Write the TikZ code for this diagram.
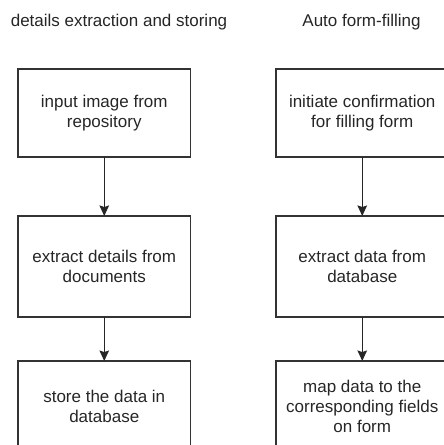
\documentclass[tikz,border=0pt]{standalone}
\usepackage{fontspec}
\setmainfont{Liberation Sans}
\usetikzlibrary{arrows.meta}
\tikzset{
  stepbox/.style={draw=black!80, line width=1.4pt, rectangle, inner sep=0pt, outer sep=0pt,
    minimum width=172.5pt, align=center, text=black!85,
    font=\fontsize{17}{20}\selectfont},
  title/.style={text=black!85, font=\fontsize{17}{20}\selectfont, inner sep=0pt, anchor=base},
  flow/.style={draw=black!85, line width=1.4pt, -{Stealth[inset=1.5pt,length=10.5pt,width=9.5pt]}}
}
\begin{document}
\begin{tikzpicture}[x=1pt,y=1pt]
\useasboundingbox (0,-445) rectangle (444,0);
\clip (0,-445) rectangle (444,0);
\node[title] (t1) at (119,-26) {details extraction and storing};
\node[title] (t2) at (361.5,-26) {Auto form-filling};
\node[stepbox, minimum height=88pt] (a1) at (104.25,-113) {input image from\\repository};
\node[stepbox, minimum height=101pt] (a2) at (104.25,-266.5) {extract details from\\documents};
\node[stepbox, minimum height=90pt] (a3) at (104.25,-406) {store the data in\\database};
\node[stepbox, minimum height=88pt] (b1) at (362.25,-113) {initiate confirmation\\for filling form};
\node[stepbox, minimum height=101pt] (b2) at (362.25,-266.5) {extract data from\\database};
\node[stepbox, minimum height=90pt] (b3) at (362.25,-406) {map data to the\\corresponding fields\\on form};
\draw[flow] (a1) -- (a2);
\draw[flow] (a2) -- (a3);
\draw[flow] (b1) -- (b2);
\draw[flow] (b2) -- (b3);
\end{tikzpicture}
\end{document}
